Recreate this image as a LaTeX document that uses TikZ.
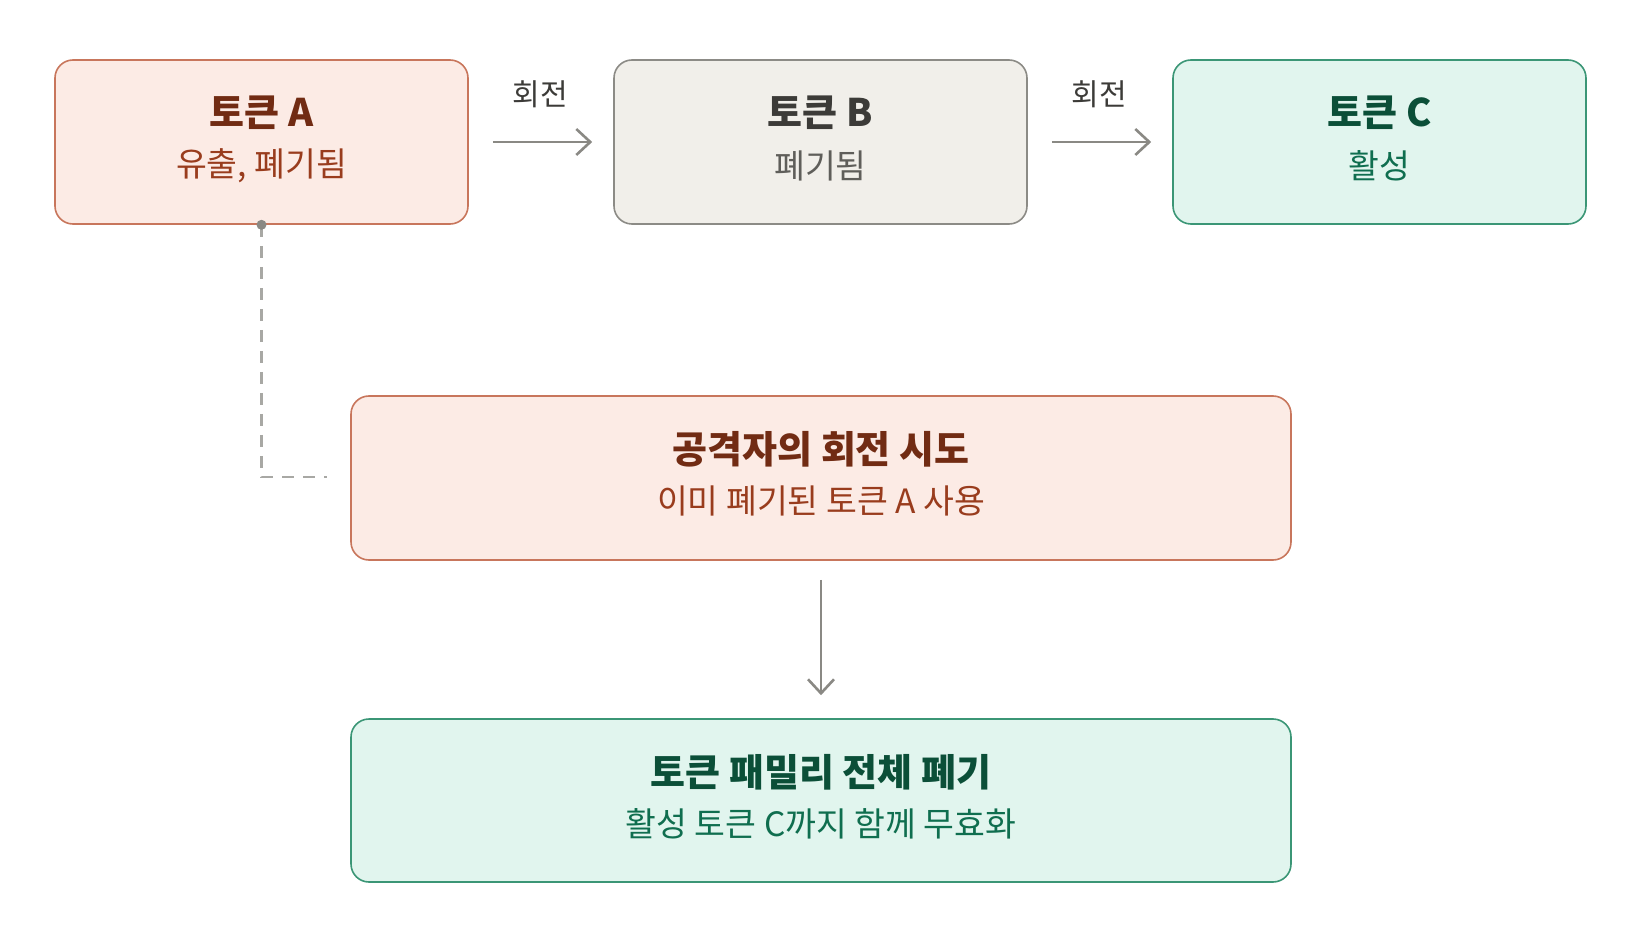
\documentclass[tikz,border=0pt]{standalone}
\usepackage{fontspec}
\setmainfont{Noto Sans CJK KR}
\usetikzlibrary{arrows.meta}
\definecolor{leak_fill}{HTML}{FCEBE5}
\definecolor{leak_line}{HTML}{C8765C}
\definecolor{leak_title}{HTML}{712B13}
\definecolor{leak_text}{HTML}{993C1D}
\definecolor{old_fill}{HTML}{F1EFEA}
\definecolor{old_line}{HTML}{8C8B86}
\definecolor{old_title}{HTML}{3C3B38}
\definecolor{old_text}{HTML}{5F5E5A}
\definecolor{live_fill}{HTML}{E1F5EE}
\definecolor{live_line}{HTML}{3B9676}
\definecolor{live_title}{HTML}{0B4F38}
\definecolor{live_text}{HTML}{0F6E4F}
\definecolor{wire}{HTML}{8A8984}
\definecolor{trace_gray}{HTML}{A8A8A4}
\tikzstyle{box}=[rectangle,rounded corners=18pt,line width=1.6pt,
  minimum width=413pt,minimum height=164pt,inner sep=0pt]
\tikzstyle{leak}=[box,fill=leak_fill,draw=leak_line]
\tikzstyle{old}=[box,fill=old_fill,draw=old_line]
\tikzstyle{live}=[box,fill=live_fill,draw=live_line]
\tikzstyle{ttl}=[inner sep=0pt,font=\fontsize{38}{44}\selectfont\bfseries]
\tikzstyle{sub}=[inner sep=0pt,font=\fontsize{33.5}{38}\selectfont]
\tikzstyle{lbl}=[inner sep=0pt,text=old_title,font=\fontsize{30}{35}\selectfont]
\tikzstyle{flow}=[draw=wire,line width=2.6pt,
  -{Straight Barb[length=14pt,width=26pt,line width=2.6pt]}]
\tikzstyle{trace}=[draw=trace_gray,line width=2.2pt,dash pattern=on 12pt off 9pt]

\begin{document}
\begin{tikzpicture}[x=1pt,y=-1pt]
    \useasboundingbox (0,0) rectangle (1641,941);
    \node [style=leak] (tokA) at (261.5,142) {};
    \node [style=old] (tokB) at (820.5,142) {};
    \node [style=live] (tokC) at (1379.5,142) {};
    \node [style=leak,minimum width=940pt] (attack) at (821,478) {};
    \node [style=live,minimum width=940pt,minimum height=163pt] (revoke) at (821,800.5) {};
    \node [style=ttl,text=leak_title] (tokAttl) at (261.5,113) {토큰 A};
    \node [style=sub,text=leak_text] (tokAsub) at (261.5,166) {유출, 폐기됨};
    \node [style=ttl,text=old_title] (tokBttl) at (820.5,113) {토큰 B};
    \node [style=sub,text=old_text] (tokBsub) at (820.5,166) {폐기됨};
    \node [style=ttl,text=live_title] (tokCttl) at (1379.5,113) {토큰 C};
    \node [style=sub,text=live_text] (tokCsub) at (1379.5,166) {활성};
    \node [style=ttl,text=leak_title] (attackttl) at (821,449) {공격자의 회전 시도};
    \node [style=sub,text=leak_text] (attacksub) at (821,501) {이미 폐기된 토큰 A 사용};
    \node [style=ttl,text=live_title] (revokettl) at (821,772) {토큰 패밀리 전체 폐기};
    \node [style=sub,text=live_text] (revokesub) at (821,824) {활성 토큰 C까지 함께 무효화};
    \node [style=lbl] (rotAB) at (540,94) {회전};
    \node [style=lbl] (rotBC) at (1099,94) {회전};
    \coordinate (traceEnd) at (327,477);
    \draw [style=flow,shorten <=24pt,shorten >=21pt] (tokA.east) to (tokB.west);
    \draw [style=flow,shorten <=24pt,shorten >=21pt] (tokB.east) to (tokC.west);
    \draw [style=flow,shorten <=19pt,shorten >=23pt] (attack.south) to (revoke.north);
    \draw [style=trace] (tokA.south) |- (traceEnd);
    \fill [wire] (tokA.south) circle (5pt);
  \end{tikzpicture}
\end{document}
